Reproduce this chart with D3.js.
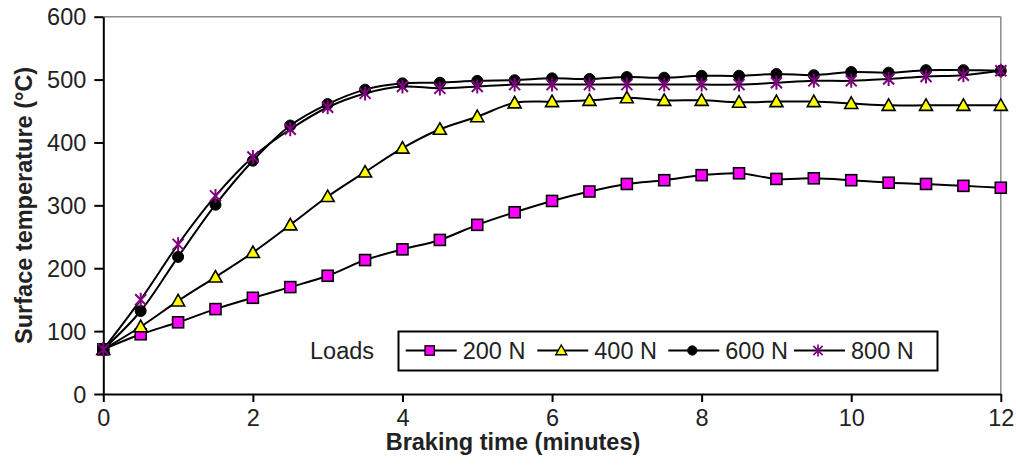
<!DOCTYPE html>
<html>
<head>
<meta charset="utf-8">
<script src="https://cdn.jsdelivr.net/npm/d3@7"></script>
<style>
  html, body { margin: 0; padding: 0; background: #fff; }
  svg { display: block; font-family: "Liberation Sans", Arial, sans-serif; }
</style>
</head>
<body>
<svg id="chart" width="1016" height="469"></svg>
<script>
// Braking time in minutes (sampled every half minute)
const times = [0, 0.5, 1, 1.5, 2, 2.5, 3, 3.5, 4, 4.5, 5, 5.5, 6, 6.5, 7, 7.5, 8, 8.5, 9, 9.5, 10, 10.5, 11, 11.5, 12];

// Surface temperature (°C) for each applied load
const load200 = [71, 95, 114, 135, 153, 170, 188, 213, 230, 245, 269, 289, 307, 322, 334, 340, 348, 351, 342, 343, 340, 336, 334, 331, 328];
const load400 = [71, 107, 148, 186, 225, 269, 314, 353, 391, 421, 441, 463, 465, 467, 471, 467, 467, 464, 465, 465, 462, 459, 459, 459, 459];
const load600 = [71, 132, 218, 301, 371, 427, 461, 484, 494, 495, 498, 499, 502, 501, 504, 503, 506, 506, 509, 507, 512, 511, 515, 515, 514];
const load800 = [71, 150, 238, 315, 377, 421, 456, 478, 489, 486, 489, 492, 492, 492, 492, 492, 492, 492, 495, 498, 498, 501, 505, 507, 514];

const seriesNames = ["200 N", "400 N", "600 N", "800 N"];
const xTicks = [0, 2, 4, 6, 8, 10, 12];
const yTicks = [0, 100, 200, 300, 400, 500, 600];

const series = [
  { name: seriesNames[0], values: load200, marker: "square",   fill: "#ff00ff", stroke: "#000" },
  { name: seriesNames[1], values: load400, marker: "triangle", fill: "#ffff00", stroke: "#000" },
  { name: seriesNames[2], values: load600, marker: "circle",   fill: "#000",    stroke: "#000" },
  { name: seriesNames[3], values: load800, marker: "star",     fill: "none",    stroke: "#800080" }
];

const svg = d3.select("#chart");
const plot = { left: 103.3, right: 1000.8, top: 16.7, bottom: 394 };

const x = d3.scaleLinear().domain([0, 12]).range([plot.left, plot.right]);
const y = d3.scaleLinear().domain([0, 600]).range([plot.bottom, plot.top]);

const textColor = "#222";
const fontSize = "23.5px";

// Frame: grey top and right edges
svg.append("line")
  .attr("x1", plot.left).attr("x2", plot.right)
  .attr("y1", plot.top).attr("y2", plot.top)
  .attr("stroke", "#8c8c8c").attr("stroke-width", 1.5);
svg.append("line")
  .attr("x1", plot.right).attr("x2", plot.right)
  .attr("y1", plot.top).attr("y2", plot.bottom)
  .attr("stroke", "#8c8c8c").attr("stroke-width", 1.5);

// Axes
const xAxis = svg.append("g")
  .attr("transform", `translate(0,${plot.bottom})`)
  .call(d3.axisBottom(x).tickValues(xTicks).tickFormat(d3.format("d")).tickSize(8).tickSizeOuter(0).tickPadding(7));
const yAxis = svg.append("g")
  .attr("transform", `translate(${plot.left},0)`)
  .call(d3.axisLeft(y).tickValues(yTicks).tickFormat(d3.format("d")).tickSize(9).tickSizeOuter(0).tickPadding(8));

[xAxis, yAxis].forEach(g => {
  g.select(".domain").attr("stroke", "#000").attr("stroke-width", 2);
  g.selectAll(".tick line").attr("stroke", "#000").attr("stroke-width", 2);
  g.selectAll(".tick text")
    .attr("fill", textColor)
    .style("font-size", fontSize)
    .style("font-family", "'Liberation Sans', Arial, sans-serif");
});
yAxis.selectAll(".tick text").attr("dy", "0.35em");

// Axis titles
svg.append("text")
  .attr("x", 513).attr("y", 450)
  .attr("text-anchor", "middle")
  .attr("fill", textColor)
  .style("font-size", fontSize).style("font-weight", "bold")
  .text("Braking time (minutes)");
svg.append("text")
  .attr("transform", `translate(31.5,${(plot.top + plot.bottom) / 2}) rotate(-90)`)
  .attr("text-anchor", "middle")
  .attr("fill", textColor)
  .style("font-size", fontSize).style("font-weight", "bold")
  .text("Surface temperature (°C)");

// Marker drawing
function drawMarker(sel, s) {
  if (s.marker === "square") {
    sel.append("rect")
      .attr("x", -5.5).attr("y", -5.5).attr("width", 11).attr("height", 11)
      .attr("fill", s.fill).attr("stroke", s.stroke).attr("stroke-width", 1.6);
  } else if (s.marker === "triangle") {
    sel.append("path")
      .attr("d", "M0,-6.5 L6.5,5 L-6.5,5 Z")
      .attr("fill", s.fill).attr("stroke", s.stroke).attr("stroke-width", 1.6);
  } else if (s.marker === "circle") {
    sel.append("circle")
      .attr("r", 5.5)
      .attr("fill", s.fill).attr("stroke", s.stroke).attr("stroke-width", 1);
  } else if (s.marker === "star") {
    sel.append("path")
      .attr("d", "M-5.5,-5.5 L5.5,5.5 M-5.5,5.5 L5.5,-5.5 M0,-7 L0,7")
      .attr("fill", "none").attr("stroke", s.stroke).attr("stroke-width", 2);
  }
}

const line = d3.line()
  .x((d, i) => x(times[i]))
  .y(d => y(d))
  .curve(d3.curveCatmullRom.alpha(0.5));

// Series: smoothed line, then its markers
series.forEach(s => {
  const g = svg.append("g");
  g.append("path")
    .datum(s.values)
    .attr("d", line)
    .attr("fill", "none")
    .attr("stroke", "#000")
    .attr("stroke-width", 2);
  g.selectAll("g.pt")
    .data(s.values)
    .join("g")
    .attr("class", "pt")
    .attr("transform", (d, i) => `translate(${x(times[i])},${y(d)})`)
    .each(function () { drawMarker(d3.select(this), s); });
});

// Legend
svg.append("text")
  .attr("x", 310).attr("y", 358.5)
  .attr("fill", textColor)
  .style("font-size", fontSize)
  .text("Loads");

const legendBox = { x: 398.5, y: 331.5, w: 539, h: 39 };
svg.append("rect")
  .attr("x", legendBox.x).attr("y", legendBox.y)
  .attr("width", legendBox.w).attr("height", legendBox.h)
  .attr("fill", "#fff").attr("stroke", "#000").attr("stroke-width", 2);

const legendStarts = [405.7, 537.3, 668.3, 794];
const legendMidY = 350.5;
series.forEach((s, i) => {
  const x0 = legendStarts[i];
  const g = svg.append("g");
  g.append("line")
    .attr("x1", x0).attr("x2", x0 + 51)
    .attr("y1", legendMidY).attr("y2", legendMidY)
    .attr("stroke", "#000").attr("stroke-width", 2);
  const m = g.append("g").attr("transform", `translate(${x0 + 24},${legendMidY}) scale(0.85)`);
  drawMarker(m, s);
  g.append("text")
    .attr("x", x0 + 57).attr("y", 358.5)
    .attr("fill", textColor)
    .style("font-size", fontSize)
    .text(s.name);
});
</script>
</body>
</html>
